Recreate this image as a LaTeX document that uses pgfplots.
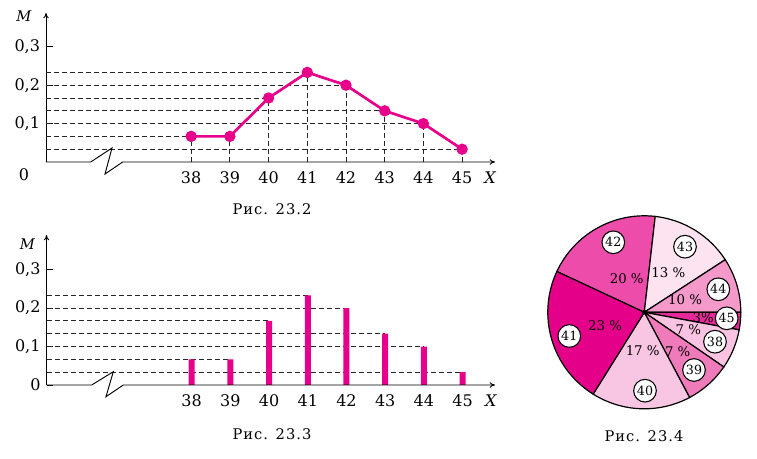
\documentclass[border=0pt]{standalone}
\usepackage{fontspec}
\setmainfont{DejaVu Serif}
\newfontfamily\capfont[LetterSpace=7]{DejaVu Serif}
\usepackage{pgfplots}
\pgfplotsset{compat=1.18}
\usepackage{pgfplotstable}
\usetikzlibrary{arrows.meta}
\definecolor{mag}{HTML}{E6008A}
\definecolor{cA}{HTML}{E5008A}% 41
\definecolor{cB}{HTML}{EE4CAA}% 42
\definecolor{cC}{HTML}{FDE3F0}% 43
\definecolor{cD}{HTML}{F599CB}% 44
\definecolor{cE}{HTML}{E8299A}% 45
\definecolor{cF}{HTML}{F9C3E1}% 38
\definecolor{cG}{HTML}{F07BBB}% 39
\definecolor{cH}{HTML}{F8C6E2}% 40

\pgfplotstableread{
x m
38 0.0667
39 0.0667
40 0.1667
41 0.2333
42 0.2
43 0.1333
44 0.1
45 0.0333
}\freq

\pgfplotsset{
  hist/.style={
    scale only axis, width=336.75pt,
    xmin=34.25, xmax=45.85, ymin=0,
    enlargelimits=false,
    axis x line=bottom, axis y line=left,
    x axis line style={draw=none},
    y axis line style={-{To[length=4pt,width=4pt]}, line width=0.7pt},
    xtick={38,...,45}, xtick style={draw=none},
    tick align=inside, major tick length=5pt,
    ytick style={line width=0.7pt, black},
    tick label style={font=\fontsize{12}{12}\selectfont},
    /pgf/number format/assume math mode=true,
    xticklabel style={anchor=center, yshift=-11.5pt},
    yticklabel style={anchor=east, xshift=-1pt},
  },
  dsh/.style={black!85, line width=0.6pt, dash pattern=on 3.75pt off 2.25pt},
}

\newcommand\slice[3]{\filldraw[fill=#3, draw=black, line width=0.9pt] (axis cs:0,0) -- (axis cs:{cos(#1)},{sin(#1)}) arc[start angle=#1, end angle=#2, radius=72.375pt] -- cycle;}

\begin{document}
\begin{tikzpicture}[x=0.75pt,y=-0.75pt]
\path[use as bounding box] (0,0) rectangle (757,459);
\coordinate (PA) at (46,162);
\coordinate (PB) at (46.5,385);
\coordinate (PC) at (644.3,312.3);

% ---- top: polygon
\begin{axis}[hist, at={(PA)}, anchor=south west, height=111.75pt, ymax=0.388,
  ytick={0.1,0.2,0.3}, yticklabels={{0,1},{0,2},{0,3}}]
\addplot[xcomb, dsh] table {\freq};
\addplot[ycomb, dsh] table {\freq};
\addplot[mag, line width=2pt, mark=*, mark size=3.2pt, mark options={fill=mag, draw=mag}] table {\freq};
\end{axis}
\draw[line width=0.7pt, -{To[length=4pt,width=4pt]}] (46,162) -- (90.7,162) -- (112,148) -- (105,174) -- (122.7,162) -- (495,162);
\node[font=\fontsize{12}{12}\selectfont] at (24,175) {0};
\node[font=\fontsize{11}{11}\selectfont\itshape] at (24,16) {M};
\node[font=\fontsize{12}{12}\selectfont\itshape] at (490,177.5) {X};
\node[font=\capfont\fontsize{11}{12}\selectfont] at (272,209) {Рис. 23.2};

% ---- bottom: bars
\begin{axis}[hist, at={(PB)}, anchor=south west, height=112.5pt, ymax=0.39,
  ytick={0,0.1,0.2,0.3}, yticklabels={0,{0,1},{0,2},{0,3}}]
\addplot[xcomb, dsh] table {\freq};
\addplot[ybar, bar shift=0pt, bar width=4.5pt, fill=mag, draw=none] table {\freq};
\end{axis}
\draw[line width=0.7pt, -{To[length=4pt,width=4pt]}] (46.5,385) -- (91.7,385) -- (113.3,371.7) -- (106,396.7) -- (123.3,385) -- (495,385);
\node[font=\fontsize{11}{11}\selectfont\itshape] at (27.5,244) {M};
\node[font=\fontsize{12}{12}\selectfont\itshape] at (490.7,400.7) {X};
\node[font=\capfont\fontsize{11}{12}\selectfont] at (272,434) {Рис. 23.3};

% ---- pie
\begin{axis}[at={(PC)}, anchor=center, scale only axis, width=144.75pt, height=144.75pt,
  xmin=-1, xmax=1, ymin=-1, ymax=1, hide axis, clip=false]
\slice{155}{83.5}{cB}   % 42: 20 %
\slice{83.5}{33}{cC}    % 43: 13 %
\slice{33}{0}{cD}       % 44: 10 %
\slice{0}{-10.5}{cE}    % 45: 3 %
\slice{-10.5}{-34.5}{cF}% 38: 7 %
\slice{-34.5}{-62}{cG}  % 39: 7 %
\slice{-62}{-122}{cH}   % 40: 17 %
\slice{-122}{-205}{cA}  % 41: 23 %
\fill (axis cs:0,0) circle[radius=1.8pt];
\end{axis}
\begin{scope}[every node/.style={font=\fontsize{10}{10}\selectfont}]
\node at (626.7,278.3) {20 \%};
\node at (668.3,272.7) {13 \%};
\node at (685,300) {10 \%};
\node at (703.3,317.3) {3\%};
\node at (688.3,330) {7 \%};
\node at (677.7,351.7) {7 \%};
\node at (642.7,350.7) {17 \%};
\node at (605,326) {23 \%};
\end{scope}
\begin{scope}[every node/.style={circle, draw=black, line width=0.8pt, fill=white, inner sep=0pt, minimum size=17pt, font=\fontsize{9.5}{9.5}\selectfont}]
\node at (613.3,242.3) {42};
\node at (685,246.7) {43};
\node at (718.3,289.3) {44};
\node at (726.7,318.3) {45};
\node at (715,341.7) {38};
\node at (694,370) {39};
\node at (645,390.7) {40};
\node at (569.3,336) {41};
\end{scope}
\node[font=\capfont\fontsize{11}{12}\selectfont] at (644,436) {Рис. 23.4};
\end{tikzpicture}
\end{document}
